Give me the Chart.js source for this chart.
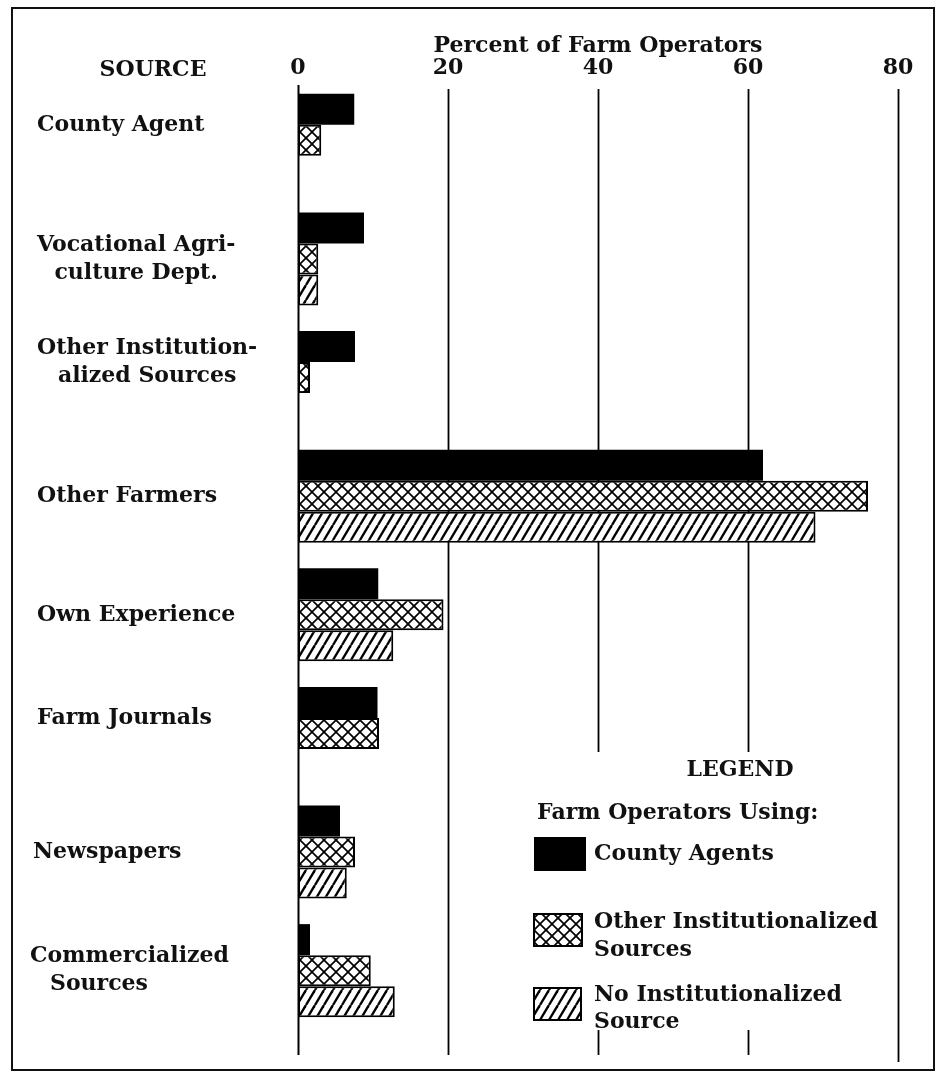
<!DOCTYPE html>
<html>
<head>
<meta charset="utf-8">
<script src="https://cdn.jsdelivr.net/npm/chart.js@4/dist/chart.umd.min.js"></script>
<style>
  html, body { margin: 0; padding: 0; background: #fff; }
  #wrap { width: 939px; height: 1074px; position: relative; }
</style>
</head>
<body>
<div id="wrap"><canvas id="c" width="939" height="1074"></canvas></div>
<script>
// ---- data ----
const categories = [
  ["County Agent"],
  ["Vocational Agri-", "culture Dept."],
  ["Other Institution-", "alized Sources"],
  ["Other Farmers"],
  ["Own Experience"],
  ["Farm Journals"],
  ["Newspapers"],
  ["Commercialized", "Sources"]
];
const seriesNames = ["County Agents", "Other Institutionalized Sources", "No Institutionalized Source"];
const countyAgents = [7.5, 8.8, 7.6, 62, 10.7, 10.6, 5.6, 1.6];
const otherInstitutionalized = [3.1, 2.7, 1.6, 76, 19.4, 10.8, 7.6, 9.7];
const noInstitutionalized = [null, 2.7, null, 69, 12.7, null, 6.5, 12.9];
const xTicks = [0, 20, 40, 60, 80];
const axisTitle = "Percent of Farm Operators";
const sourceHeader = "SOURCE";
const legendTitle = "LEGEND";
const legendSubtitle = "Farm Operators Using:";
const legendLines = [["County Agents"], ["Other Institutionalized", "Sources"], ["No Institutionalized", "Source"]];

// ---- styles ----
const FONT = '"DejaVu Serif", "Liberation Serif", serif';
const FS = 22;
const FW = 'bold';
const FONTSTR = FW + ' ' + FS + 'px ' + FONT;

function makeHatch() {
  const w = 9, h = 15;
  const c = document.createElement('canvas');
  c.width = w; c.height = h;
  const g = c.getContext('2d');
  g.fillStyle = '#fff'; g.fillRect(0, 0, w, h);
  g.strokeStyle = '#000'; g.lineWidth = 2.4;
  for (const x0 of [-w, 0, w]) {
    g.beginPath(); g.moveTo(x0, h); g.lineTo(x0 + w, 0); g.stroke();
  }
  return g.createPattern(c, 'repeat');
}
function makeCross() {
  const s = 12;
  const c = document.createElement('canvas');
  c.width = s; c.height = s;
  const g = c.getContext('2d');
  g.fillStyle = '#fff'; g.fillRect(0, 0, s, s);
  g.strokeStyle = '#000'; g.lineWidth = 1.7;
  for (const x0 of [-s, 0, s]) {
    g.beginPath(); g.moveTo(x0, 0); g.lineTo(x0 + s, s); g.stroke();
    g.beginPath(); g.moveTo(x0, s); g.lineTo(x0 + s, 0); g.stroke();
  }
  return g.createPattern(c, 'repeat');
}
const fills = ['#000', makeCross(), makeHatch()];

const decor = {
  id: 'decor',
  beforeDatasetsDraw(chart) {
    const ctx = chart.ctx, xs = chart.scales.x;
    ctx.save();
    ctx.strokeStyle = '#000';
    ctx.lineCap = 'butt';
    xTicks.forEach(t => {
      const x = Math.round(xs.getPixelForValue(t)) + 0.5;
      ctx.lineWidth = t === 0 ? 2 : 1.8;
      const top = t === 0 ? 85 : 89;
      const bot = t === 80 ? 1062 : 1055;
      ctx.beginPath();
      if (t === 40 || t === 60) {
        ctx.moveTo(x, top); ctx.lineTo(x, 752);
        ctx.moveTo(x, 1030); ctx.lineTo(x, bot);
      } else {
        ctx.moveTo(x, top); ctx.lineTo(x, bot);
      }
      ctx.stroke();
    });
    ctx.restore();
  },
  afterDraw(chart) {
    const ctx = chart.ctx;
    ctx.save();
    ctx.fillStyle = '#111';
    ctx.font = FONTSTR;
    ctx.textBaseline = 'middle';
    // header
    ctx.textAlign = 'center';
    ctx.fillText(sourceHeader, 153, 70);
    // category labels
    const indents = {7: 20};
    const lefts = {6: 33, 7: 30};
    categories.forEach((lines, i) => {
      const ys = [];
      chart.data.datasets.forEach((ds, d) => {
        if (ds.data[i] != null) ys.push(chart.getDatasetMeta(d).data[i].y);
      });
      const yc = ys.reduce((a, b) => a + b, 0) / ys.length;
      const lh = 28;
      const y0 = yc - (lines.length - 1) * lh / 2;
      const w0 = ctx.measureText(lines[0]).width;
      const left = lefts[i] != null ? lefts[i] : 37;
      lines.forEach((ln, k) => {
        ctx.textAlign = 'left';
        let x = left;
        if (k > 0) {
          if (indents[i] != null) x = left + indents[i];
          else x = left + (w0 - ctx.measureText(ln).width) / 2;
        }
        ctx.fillText(ln, x, y0 + k * lh);
      });
    });
    // legend
    ctx.textAlign = 'center';
    ctx.fillText(legendTitle, 740, 770);
    ctx.textAlign = 'left';
    ctx.fillText(legendSubtitle, 537, 813);
    const boxes = [[535, 838, 50, 32], [534, 914, 48, 32], [534, 988, 47, 32]];
    const textY = [[854], [922, 950], [995, 1022]];
    boxes.forEach((b, k) => {
      ctx.fillStyle = fills[k];
      ctx.fillRect(b[0], b[1], b[2], b[3]);
      ctx.strokeStyle = '#000'; ctx.lineWidth = 2;
      ctx.strokeRect(b[0], b[1], b[2], b[3]);
      ctx.fillStyle = '#111';
      legendLines[k].forEach((ln, j) => ctx.fillText(ln, 594, textY[k][j]));
    });
    // frame
    ctx.strokeStyle = '#111'; ctx.lineWidth = 2;
    ctx.strokeRect(12, 8, 922, 1062);
    ctx.restore();
  }
};

const datasetsSrc = [countyAgents, otherInstitutionalized, noInstitutionalized];
new Chart(document.getElementById('c'), {
  type: 'bar',
  data: {
    labels: categories,
    datasets: datasetsSrc.map((arr, k) => ({
      label: seriesNames[k],
      data: arr,
      backgroundColor: fills[k],
      borderColor: '#000',
      borderWidth: k === 0 ? 0 : 2,
      borderSkipped: false,
      categoryPercentage: 0.785,
      barPercentage: 1.0
    }))
  },
  options: {
    indexAxis: 'y',
    responsive: false,
    animation: false,
    devicePixelRatio: 1,
    layout: { padding: { left: 298, right: 41, top: 0, bottom: 44 } },
    plugins: { legend: { display: false }, tooltip: { enabled: false } },
    scales: {
      y: { display: false },
      x: {
        position: 'top',
        min: 0, max: 80,
        afterBuildTicks: s => { s.ticks = xTicks.map(v => ({ value: v })); },
        afterFit: s => { s.height = 81; },
        grid: { display: false, drawTicks: false },
        border: { display: false },
        ticks: { color: '#111', font: { family: FONT, size: FS, weight: FW }, padding: 0, maxRotation: 0 },
        title: { display: true, text: axisTitle, color: '#111', font: { family: FONT, size: FS, weight: FW }, padding: { top: 33, bottom: 0 } }
      }
    }
  },
  plugins: [decor]
});
</script>
</body>
</html>
